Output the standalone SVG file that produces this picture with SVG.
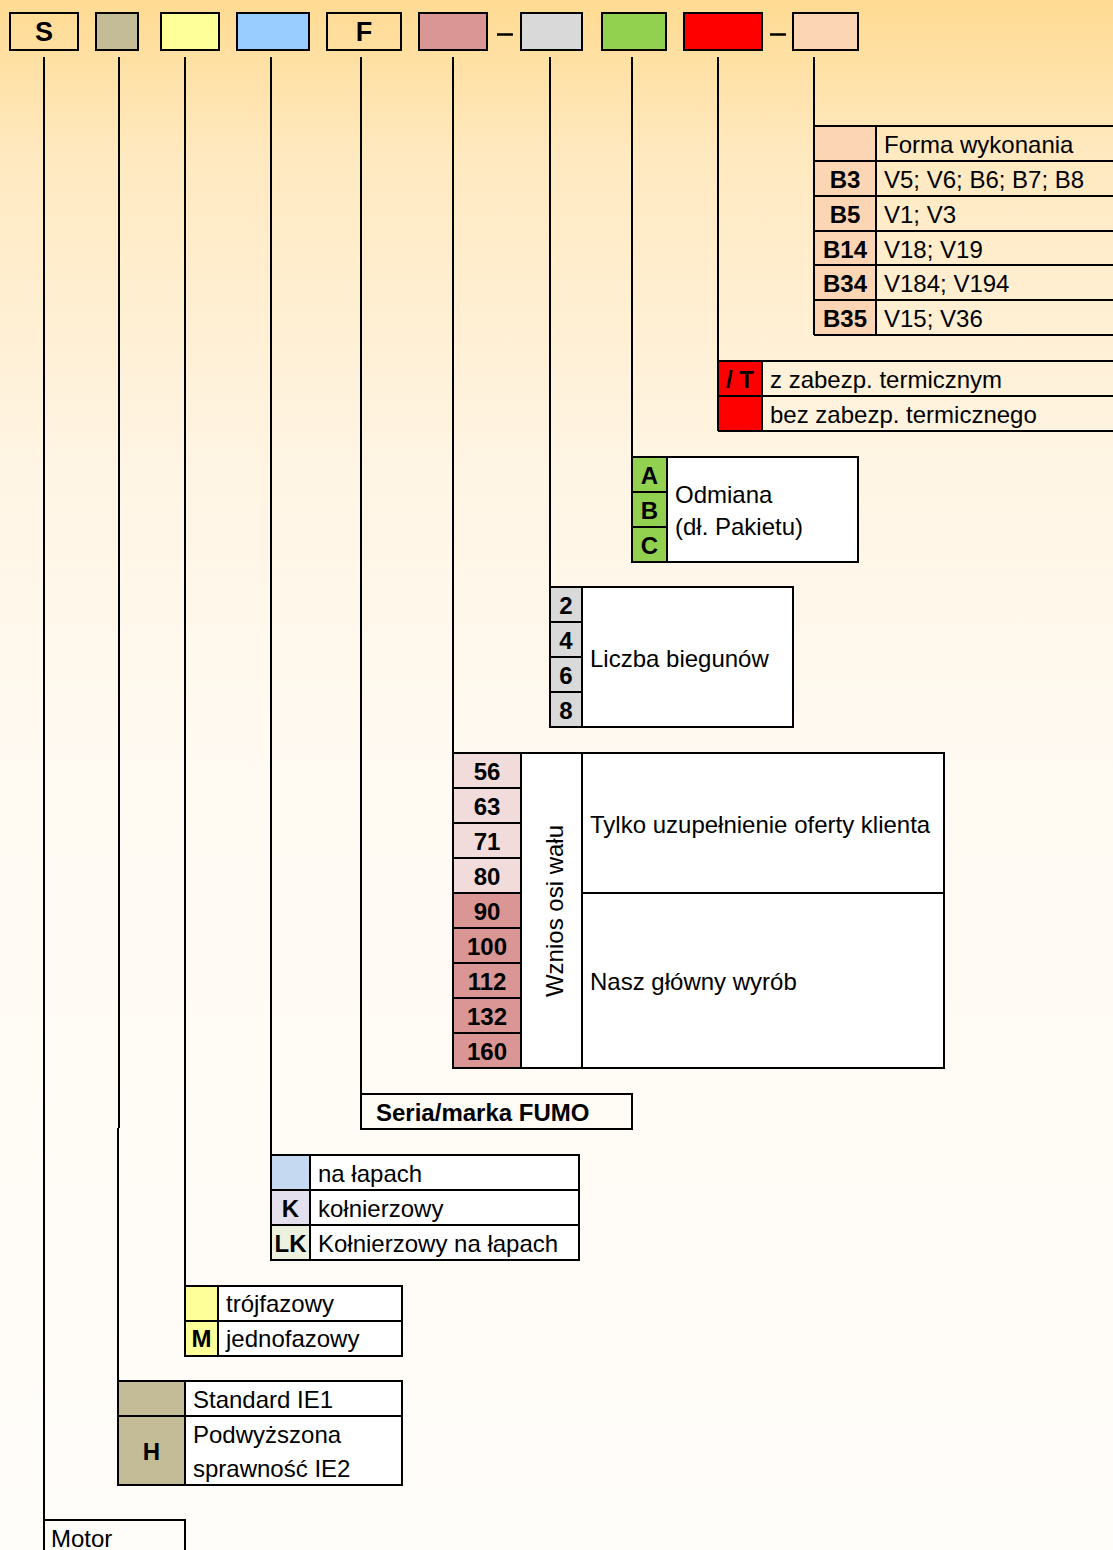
<svg xmlns="http://www.w3.org/2000/svg" width="1113" height="1550" viewBox="0 0 1113 1550">
<defs>
<linearGradient id="bg" x1="0" y1="0" x2="0" y2="1">
<stop offset="0" stop-color="#FFDB92"/>
<stop offset="0.1" stop-color="#FFE9C0"/>
<stop offset="0.3" stop-color="#FFF5E4"/>
<stop offset="0.5" stop-color="#FFFAF2"/>
<stop offset="1" stop-color="#FFFDFA"/>
</linearGradient>
</defs>
<style>
.b{stroke:#000;stroke-width:2;}
.ln{stroke:#000;stroke-width:2;fill:none;}
.t{font-family:"Liberation Sans",Arial,sans-serif;font-size:24px;fill:#000;}
.tb{font-family:"Liberation Sans",Arial,sans-serif;font-size:24px;font-weight:bold;fill:#000;text-anchor:middle;}
.th{font-family:"Liberation Sans",Arial,sans-serif;font-size:27px;font-weight:bold;fill:#000;text-anchor:middle;}
.w{fill:#fff;}
</style>
<rect x="0" y="0" width="1113" height="1550" fill="url(#bg)"/>

<g id="code-boxes">
<g id="box-s"><rect class="b" x="10" y="13" width="68" height="37" fill="none"/><text class="th" x="44" y="41">S</text></g>
<g id="box-tan"><rect class="b" x="96" y="13" width="42" height="37" fill="#C4BC96"/></g>
<g id="box-yellow"><rect class="b" x="161" y="13" width="58" height="37" fill="#FFFF99"/></g>
<g id="box-blue"><rect class="b" x="237" y="13" width="72" height="37" fill="#99CCFF"/></g>
<g id="box-f"><rect class="b" x="327" y="13" width="74" height="37" fill="none"/><text class="th" x="364" y="41">F</text></g>
<g id="box-pink"><rect class="b" x="419" y="13" width="68" height="37" fill="#DA9694"/></g>
<g id="box-gray"><rect class="b" x="521" y="13" width="61" height="37" fill="#D9D9D9"/></g>
<g id="box-green"><rect class="b" x="602" y="13" width="64" height="37" fill="#92D050"/></g>
<g id="box-red"><rect class="b" x="684" y="13" width="78" height="37" fill="#FF0000"/></g>
<g id="box-peach"><rect class="b" x="793" y="13" width="65" height="37" fill="#FCD5B4"/></g>
<line x1="497" y1="34.5" x2="513" y2="34.5" stroke="#000" stroke-width="2.5"/>
<line x1="770" y1="34.5" x2="786" y2="34.5" stroke="#000" stroke-width="2.5"/>
</g>

<g id="connectors">
<path class="ln" d="M44 57V1520"/>
<path class="ln" d="M119 57V1128M118 1128V1381"/>
<path class="ln" d="M185 57V1286"/>
<path class="ln" d="M271 57V1155"/>
<path class="ln" d="M361 57V1094"/>
<path class="ln" d="M453 57V753"/>
<path class="ln" d="M550 57V587"/>
<path class="ln" d="M632 57V457"/>
<path class="ln" d="M718 57V361"/>
<path class="ln" d="M814 57V126"/>
</g>

<g id="forma">
<rect x="814" y="126" width="62" height="209" fill="#FCD5B4"/>
<path class="ln" d="M814 126H1113M814 161H1113M814 196H1113M814 231H1113M814 265H1113M814 300H1113M814 335H1113M814 126V335M876 126V335"/>
<text class="t" x="884" y="153">Forma wykonania</text>
<text class="tb" x="845" y="188">B3</text><text class="t" x="884" y="188">V5; V6; B6; B7; B8</text>
<text class="tb" x="845" y="223">B5</text><text class="t" x="884" y="223">V1; V3</text>
<text class="tb" x="845" y="258">B14</text><text class="t" x="884" y="258">V18; V19</text>
<text class="tb" x="845" y="292">B34</text><text class="t" x="884" y="292">V184; V194</text>
<text class="tb" x="845" y="327">B35</text><text class="t" x="884" y="327">V15; V36</text>
</g>

<g id="termo">
<rect x="718" y="361" width="44" height="70" fill="#FF0000"/>
<path class="ln" d="M718 361H1113M718 396H1113M718 431H1113M718 361V431M762 361V431"/>
<text class="tb" x="740" y="388">/ T</text><text class="t" x="770" y="388">z zabezp. termicznym</text>
<text class="t" x="770" y="423">bez zabezp. termicznego</text>
</g>

<g id="odmiana">
<rect class="b w" x="632" y="457" width="226" height="105"/>
<rect x="632" y="457" width="35" height="105" fill="#92D050"/>
<path class="ln" d="M632 457H858V562H632ZM667 457V562M632 492H667M632 527H667"/>
<text class="tb" x="649.5" y="484">A</text>
<text class="tb" x="649.5" y="519">B</text>
<text class="tb" x="649.5" y="554">C</text>
<text class="t" x="675" y="503">Odmiana</text>
<text class="t" x="675" y="535">(dł. Pakietu)</text>
</g>

<g id="bieguny">
<rect class="b w" x="550" y="587" width="243" height="140"/>
<rect x="550" y="587" width="32" height="140" fill="#D9D9D9"/>
<path class="ln" d="M550 587H793V727H550ZM582 587V727M550 622H582M550 657H582M550 692H582"/>
<text class="tb" x="566" y="614">2</text>
<text class="tb" x="566" y="649">4</text>
<text class="tb" x="566" y="684">6</text>
<text class="tb" x="566" y="719">8</text>
<text class="t" x="590" y="667">Liczba biegunów</text>
</g>

<g id="wznios">
<rect class="b w" x="453" y="753" width="491" height="315"/>
<rect x="453" y="753" width="68" height="140" fill="#F2DCDB"/>
<rect x="453" y="893" width="68" height="175" fill="#DA9694"/>
<path class="ln" d="M453 753H944V1068H453ZM521 753V1068M582 753V1068M582 893H944M453 788H521M453 823H521M453 858H521M453 893H521M453 928H521M453 963H521M453 998H521M453 1033H521"/>
<text class="tb" x="487" y="780">56</text>
<text class="tb" x="487" y="815">63</text>
<text class="tb" x="487" y="850">71</text>
<text class="tb" x="487" y="885">80</text>
<text class="tb" x="487" y="920">90</text>
<text class="tb" x="487" y="955">100</text>
<text class="tb" x="487" y="990">112</text>
<text class="tb" x="487" y="1025">132</text>
<text class="tb" x="487" y="1060">160</text>
<text class="t" text-anchor="middle" transform="translate(563,911) rotate(-90)">Wznios osi wału</text>
<text class="t" x="590" y="833">Tylko uzupełnienie oferty klienta</text>
<text class="t" x="590" y="990">Nasz główny wyrób</text>
</g>

<g id="seria">
<path class="ln" d="M361 1094H632V1129H361Z"/>
<text class="t" font-weight="bold" x="376" y="1121">Seria/marka FUMO</text>
</g>

<g id="mocowanie">
<rect class="b w" x="271" y="1155" width="308" height="105"/>
<rect x="271" y="1155" width="39" height="35" fill="#C5D9F1"/>
<rect x="271" y="1190" width="39" height="35" fill="#E4DFEC"/>
<rect x="271" y="1225" width="39" height="35" fill="#EBF1DE"/>
<path class="ln" d="M271 1155H579V1260H271ZM310 1155V1260M271 1190H579M271 1225H579"/>
<text class="t" x="318" y="1182">na łapach</text>
<text class="tb" x="290.5" y="1217">K</text><text class="t" x="318" y="1217">kołnierzowy</text>
<text class="tb" x="290.5" y="1252">LK</text><text class="t" x="318" y="1252">Kołnierzowy na łapach</text>
</g>

<g id="fazy">
<rect class="b w" x="185" y="1286" width="217" height="70"/>
<rect x="185" y="1286" width="33" height="70" fill="#FFFF99"/>
<path class="ln" d="M185 1286H402V1356H185ZM218 1286V1356M185 1321H402"/>
<text class="t" x="226" y="1312">trójfazowy</text>
<text class="tb" x="201.5" y="1347">M</text><text class="t" x="226" y="1347">jednofazowy</text>
</g>

<g id="sprawnosc">
<rect class="b w" x="118" y="1381" width="284" height="104"/>
<rect x="118" y="1381" width="67" height="104" fill="#C4BC96"/>
<path class="ln" d="M118 1381H402V1485H118ZM185 1381V1485M118 1416H402"/>
<text class="t" x="193" y="1408">Standard IE1</text>
<text class="tb" x="151.5" y="1460">H</text>
<text class="t" x="193" y="1443">Podwyższona</text>
<text class="t" x="193" y="1477">sprawność IE2</text>
</g>

<g id="motor">
<path class="ln" d="M44 1520H185V1552M44 1520V1552"/>
<text class="t" x="51" y="1547">Motor</text>
</g>
</svg>
